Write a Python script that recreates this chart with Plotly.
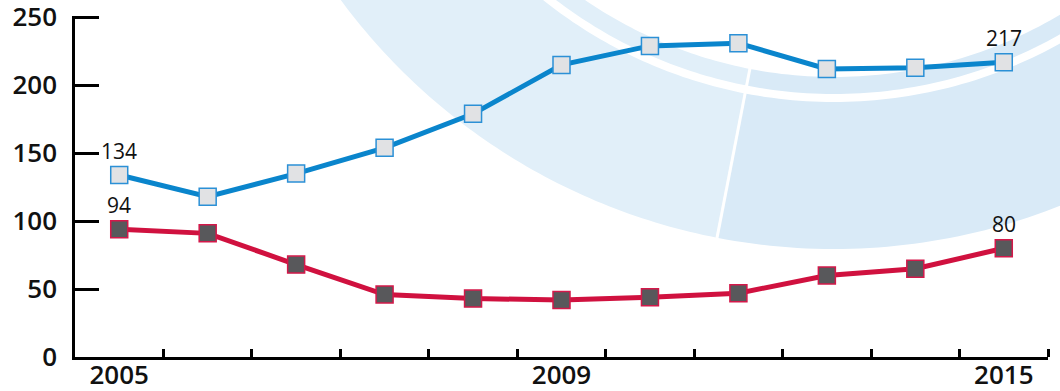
import math
import plotly.graph_objects as go

# Series values, one point per period
periods = list(range(11))
series_blue = [134, 118, 135, 154, 179, 215, 229, 231, 212, 213, 217]
series_red = [94, 91, 68, 46, 43, 42, 44, 47, 60, 65, 80]

# Labels along the time axis
year_tick_pos = [0, 5, 10]
year_tick_text = ["2005", "2009", "2015"]
y_tick_vals = [0, 50, 100, 150, 200, 250]

W, H = 1060, 391
M_L, M_R, M_T, M_B = 75, 12, 16, 34
Y_MAX = 251
PW, PH = W - M_L - M_R, H - M_T - M_B


def to_paper(px, py):
    return (px - M_L) / PW, (M_T + PH - py) / PH


def ring_sector(cx, cy, r_in, r_out, a0, a1, n=120):
    """Closed SVG path (paper coords) for an annular sector given in pixels."""
    pts = []
    for i in range(n + 1):
        a = math.radians(a0 + (a1 - a0) * i / n)
        pts.append(to_paper(cx + r_out * math.cos(a), cy + r_out * math.sin(a)))
    for i in range(n, -1, -1):
        a = math.radians(a0 + (a1 - a0) * i / n)
        pts.append(to_paper(cx + r_in * math.cos(a), cy + r_in * math.sin(a)))
    d = "M " + " L ".join(f"{x:.5f},{y:.5f}" for x, y in pts) + " Z"
    return d


# Decorative ring behind the plot
CX, CY = 834, -364
SPLIT = 101.0
LIGHT_L, LIGHT_R = "#e1eff9", "#d9eaf7"
shapes = []
for (r_in, r_out) in [(441, 458), (466, 613)]:
    shapes.append(dict(type="path", xref="paper", yref="paper", layer="below",
                       path=ring_sector(CX, CY, r_in, r_out, SPLIT, 180),
                       fillcolor=LIGHT_L, line=dict(width=0)))
    shapes.append(dict(type="path", xref="paper", yref="paper", layer="below",
                       path=ring_sector(CX, CY, r_in, r_out, 0, SPLIT),
                       fillcolor=LIGHT_R, line=dict(width=0)))
a = math.radians(SPLIT)
x0, y0 = to_paper(CX + 438 * math.cos(a), CY + 438 * math.sin(a))
x1, y1 = to_paper(CX + 618 * math.cos(a), CY + 618 * math.sin(a))
shapes.append(dict(type="line", xref="paper", yref="paper", layer="below",
                   x0=x0, y0=y0, x1=x1, y1=y1, line=dict(color="white", width=3)))

fig = go.Figure()
fig.add_trace(go.Scatter(
    x=periods, y=series_blue, mode="lines+markers",
    line=dict(color="#0a85cc", width=5),
    marker=dict(symbol="square", size=17, color="#e1e2e4",
                line=dict(color="#2b90d6", width=1.5)),
    hoverinfo="skip", showlegend=False, cliponaxis=False))
fig.add_trace(go.Scatter(
    x=periods, y=series_red, mode="lines+markers",
    line=dict(color="#d0113f", width=5),
    marker=dict(symbol="square", size=17, color="#58585b",
                line=dict(color="#d4184a", width=1.5)),
    hoverinfo="skip", showlegend=False, cliponaxis=False))

annotations = []
for series in (series_blue, series_red):
    for i in (0, len(series) - 1):
        annotations.append(dict(x=periods[i], y=series[i], xref="x", yref="y",
                                text=str(series[i]), showarrow=False, yshift=24,
                                font=dict(family="Open Sans", size=21, weight=500,
                                          color="#111")))

tick_font = dict(family="Open Sans", size=26, weight=600, color="#111")
fig.update_layout(
    width=W, height=H,
    margin=dict(l=M_L, r=M_R, t=M_T, b=M_B, pad=0),
    paper_bgcolor="white", plot_bgcolor="rgba(0,0,0,0)",
    shapes=shapes, annotations=annotations,
    font=dict(family="Open Sans", color="#111"),
    xaxis=dict(range=[-0.5, 10.5], showgrid=False, zeroline=False, automargin=False,
               showline=True, linecolor="black", linewidth=2.5,
               tickmode="array", tickvals=year_tick_pos, ticktext=year_tick_text,
               ticks="", ticklabelstandoff=-7, tickfont=tick_font,
               ticklabeloverflow="allow",
               minor=dict(tickvals=[p + 0.5 for p in periods], ticks="inside",
                          ticklen=8, tickwidth=2.5, tickcolor="black")),
    yaxis=dict(range=[0, Y_MAX], showgrid=False, zeroline=False, automargin=False,
               showline=True, linecolor="black", linewidth=2.5,
               tickmode="array", tickvals=y_tick_vals,
               ticks="inside", ticklen=24, tickwidth=2.5, tickcolor="black",
               ticklabelstandoff=10, tickfont=tick_font,
               ticklabeloverflow="allow"),
)

fig.write_html("out.html")
